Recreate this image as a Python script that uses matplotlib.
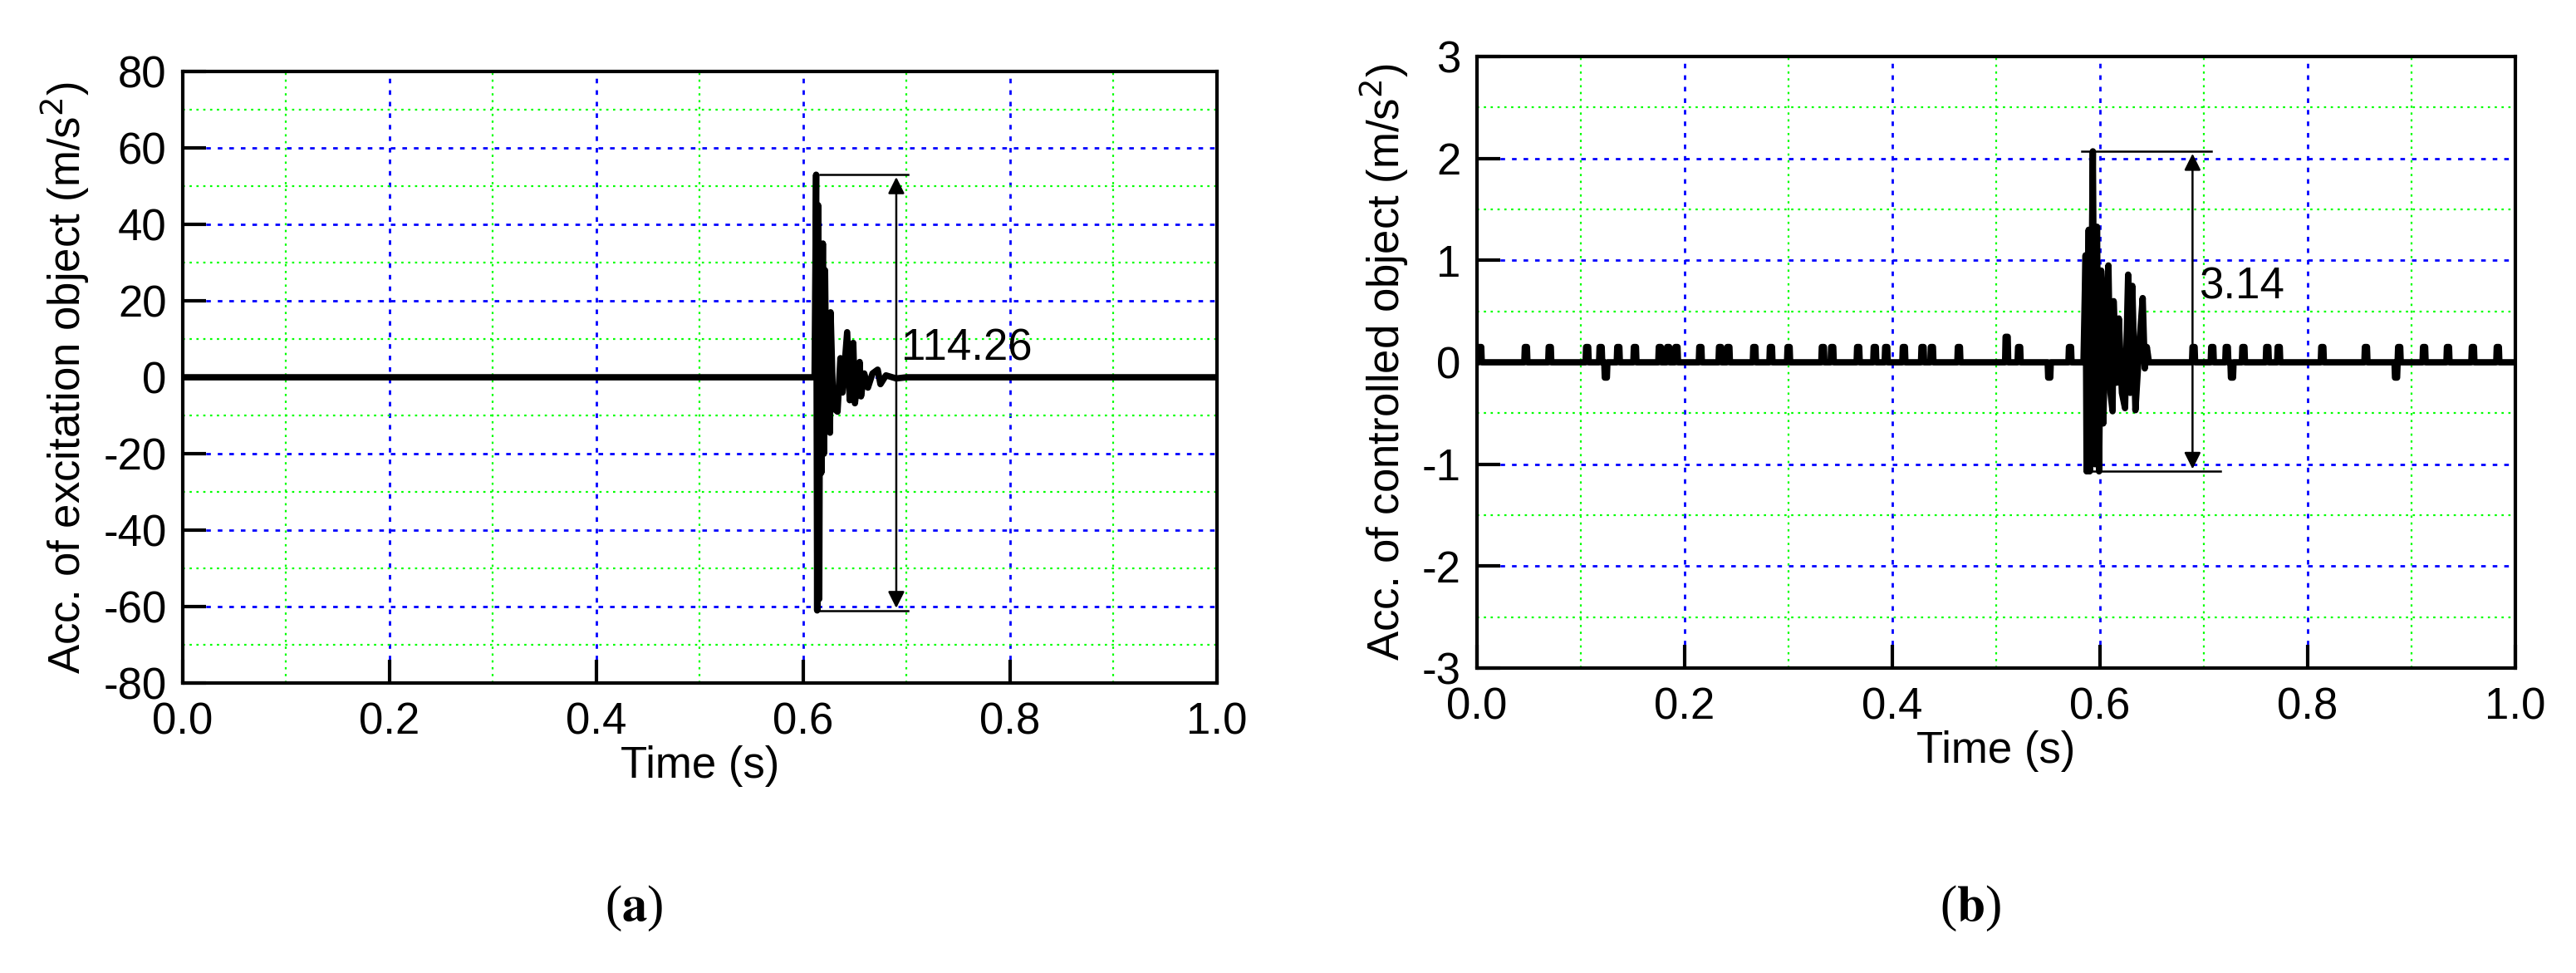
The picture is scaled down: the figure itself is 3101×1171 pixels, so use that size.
import matplotlib
matplotlib.use("Agg")
import matplotlib.pyplot as plt
from matplotlib.ticker import MultipleLocator

plt.rcParams['font.family'] = ['Liberation Sans', 'DejaVu Sans']
plt.rcParams['axes.unicode_minus'] = False

# Panel (a): excitation object
a_t = [0.0, 0.611, 0.6125, 0.6135, 0.6145, 0.6155, 0.6165, 0.6175, 0.6190, 0.6200, 0.6211, 0.6225,
       0.6245, 0.6259, 0.6265, 0.629, 0.6332, 0.636, 0.638, 0.6425, 0.645, 0.6484, 0.650, 0.6546,
       0.6559, 0.659, 0.6626, 0.667, 0.672, 0.6747, 0.68, 0.69, 0.70, 1.0]
a_v = [0.0, 0.0, 53, -61, 45, -58, 33, -25, 35, -20, 28, -10,
       10, -14.5, 17, -8, -9, 5, -4, 11.8, -6, 9, -6.8, 4,
       -5, 1, -2.7, 1, 2, -1.8, 0.5, -0.3, 0.0, 0.0]

# Panel (b): controlled object
b_spike_t = [0.003, 0.047, 0.070, 0.106, 0.119, 0.136, 0.152, 0.176, 0.184, 0.192, 0.215, 0.234,
             0.242, 0.267, 0.283, 0.300, 0.333, 0.342, 0.367, 0.383, 0.394, 0.411, 0.429, 0.438,
             0.464, 0.510, 0.522, 0.571, 0.690, 0.708, 0.722, 0.738, 0.761, 0.772, 0.814, 0.856,
             0.888, 0.912, 0.935, 0.959, 0.983]
b_spike_v = [0.15] * 25 + [0.25] + [0.15] * 15
b_dip_t = [0.124, 0.551, 0.727, 0.885]
b_dip_v = [-0.15, -0.15, -0.15, -0.15]
b_burst_t = [0.584, 0.586, 0.587, 0.589, 0.590, 0.593, 0.595, 0.597, 0.599, 0.601, 0.603, 0.606,
             0.608, 0.610, 0.612, 0.613, 0.616, 0.618, 0.621, 0.624, 0.627, 0.629, 0.631, 0.634,
             0.638, 0.641, 0.643, 0.645, 0.647]
b_burst_v = [0.0, 1.05, -1.07, 1.3, -1.07, 2.07, -1.0, 1.33, -1.07, 0.9, -0.6, 0.6,
             0.95, -0.3, -0.48, 0.6, -0.2, 0.43, -0.3, -0.45, 0.86, -0.3, 0.75, -0.47,
             0.2, 0.63, -0.06, 0.15, 0.0]

events = []
for t, v in zip(b_spike_t + b_dip_t, b_spike_v + b_dip_v):
    events.append((t, [(t - 0.0015, 0.0), (t - 0.001, v), (t + 0.001, v), (t + 0.0015, 0.0)]))
events.append((b_burst_t[0], list(zip(b_burst_t, b_burst_v))))
events.sort(key=lambda e: e[0])
bt, bv = [0.0], [0.0]
for _, pts in events:
    for t, v in pts:
        bt.append(t); bv.append(v)
bt.append(1.0); bv.append(0.0)

fig = plt.figure(figsize=(31.01, 11.71), dpi=100)
axa = fig.add_axes([0.0709, 0.298, 0.4015, 0.6285])
axb = fig.add_axes([0.5734, 0.3134, 0.4031, 0.6285])

FS = 38

def style(ax, ylim, ymaj, ymin):
    ax.set_xlim(0, 1.0)
    ax.set_ylim(*ylim)
    ax.xaxis.set_major_locator(MultipleLocator(0.2))
    ax.xaxis.set_minor_locator(MultipleLocator(0.1))
    ax.yaxis.set_major_locator(MultipleLocator(ymaj))
    ax.yaxis.set_minor_locator(MultipleLocator(ymin))
    ax.grid(which='major', color='#0000ff', linestyle=(0, (2, 3)), linewidth=2)
    ax.grid(which='minor', color='#00ff00', linestyle=(0, (1.2, 2.5)), linewidth=1.6)
    ax.tick_params(which='major', direction='in', length=20, width=3, labelsize=FS)
    ax.tick_params(axis='x', pad=16)
    ax.tick_params(axis='y', pad=14)
    ax.tick_params(which='minor', length=0)
    for s in ax.spines.values():
        s.set_linewidth(3)
    ax.set_axisbelow(True)
    ax.set_xlabel('Time (s)', fontsize=FS, labelpad=2)
    ax.xaxis.set_major_formatter(matplotlib.ticker.FormatStrFormatter('%.1f'))

style(axa, (-80, 80), 20, 10)
style(axb, (-3, 3), 1, 0.5)

axa.plot(a_t, a_v, color='black', linewidth=5.5, solid_joinstyle='round', zorder=3)
axb.plot(bt, bv, color='black', linewidth=5.5, solid_joinstyle='round', zorder=3)

axa.set_ylabel('Acc. of excitation object (m/s$^2$)', fontsize=FS, labelpad=10)
axb.set_ylabel('Acc. of controlled object (m/s$^2$)', fontsize=FS, labelpad=10)

axa.plot([0.616, 0.701], [53, 53], color='black', lw=1.8, zorder=4)
axa.plot([0.616, 0.701], [-61, -61], color='black', lw=1.8, zorder=4)
axa.annotate('', xy=(0.690, 53), xytext=(0.690, -61),
             arrowprops=dict(arrowstyle='<|-|>', color='black', lw=1.8, mutation_scale=30), zorder=4)
axa.text(0.695, 7.5, '114.26', fontsize=FS, va='center', ha='left', zorder=5)

axb.plot([0.582, 0.707], [2.07, 2.07], color='black', lw=1.8, zorder=4)
axb.plot([0.590, 0.716], [-1.07, -1.07], color='black', lw=1.8, zorder=4)
axb.annotate('', xy=(0.689, 2.07), xytext=(0.689, -1.07),
             arrowprops=dict(arrowstyle='<|-|>', color='black', lw=1.8, mutation_scale=30), zorder=4)
axb.text(0.695, 0.74, '3.14', fontsize=FS, va='center', ha='left', zorder=5)

fig.text(0.246, 0.066, r'($\mathbf{a}$)', fontsize=44, ha='center', va='center',
         family='Liberation Serif', math_fontfamily='stix')
fig.text(0.765, 0.066, r'($\mathbf{b}$)', fontsize=44, ha='center', va='center',
         family='Liberation Serif', math_fontfamily='stix')

fig.savefig('out.png', dpi=100)
